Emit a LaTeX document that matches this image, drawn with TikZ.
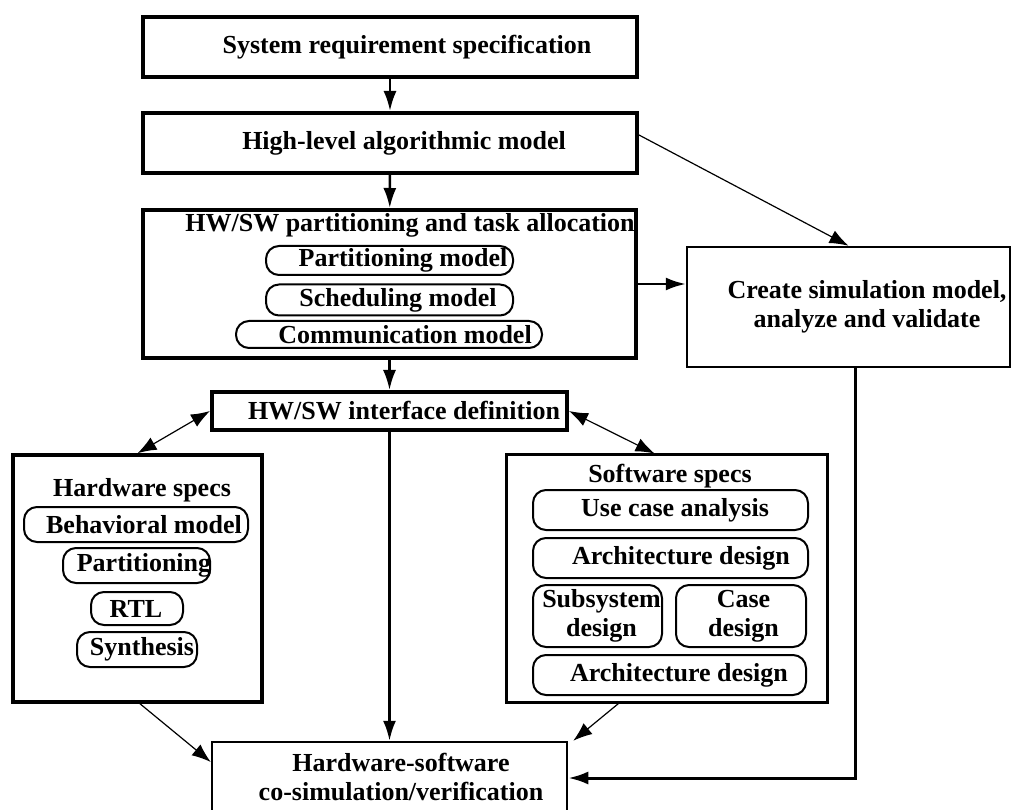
\documentclass[tikz,border=0pt]{standalone}
\usepackage{fontspec}
\setmainfont{Liberation Serif}
\usetikzlibrary{arrows.meta,calc}
\begin{document}
\begin{tikzpicture}[x=1pt,y=-1pt,
  font=\fontsize{26}{29}\selectfont\bfseries,
  stage/.style={draw, line width=4pt, inner sep=0pt, rectangle},
  panel/.style={draw, line width=3pt, inner sep=0pt, rectangle},
  pill/.style={draw, line width=2pt, rounded corners=13pt, inner sep=0pt, rectangle},
  flow/.style={line width=2.5pt, -{Latex[length=20pt,width=13pt]}},
  thinflow/.style={line width=1.2pt, -{Latex[length=19pt,width=14pt]}},
  twoway/.style={line width=1.2pt, {Latex[length=19pt,width=14pt]}-{Latex[length=19pt,width=14pt]}},
  txt/.style={align=center}
]
\fill[white] (0,0) rectangle (1013,810);
\clip (0,0) rectangle (1013,810);

% main flow, top to bottom
\node[stage, minimum width=494pt, minimum height=60pt,
  label={[xshift=17pt]center:System requirement specification}] (req) at (390,47) {};
\node[stage, minimum width=494pt, minimum height=60pt,
  label={[xshift=14pt]center:High-level algorithmic model}] (alg) at (390,143) {};
\node[stage, minimum width=493pt, minimum height=148pt,
  label={[xshift=20.5pt,yshift=59pt]center:HW/SW partitioning and task allocation}] (part) at (389.5,284) {};
\node[pill, minimum width=247pt, minimum height=29pt,
  label={[xshift=13.5pt]center:Partitioning model}] (pmodel) at (389.5,260.5) {};
\node[pill, minimum width=247pt, minimum height=31pt,
  label={[xshift=8.5pt]center:Scheduling model}] (smodel) at (389.5,300) {};
\node[pill, minimum width=306pt, minimum height=27pt,
  label={[xshift=16pt]center:Communication model}] (cmodel) at (389,334.5) {};
\node[stage, minimum width=355pt, minimum height=38pt,
  label={[xshift=14.5pt]center:HW/SW interface definition}] (iface) at (389.5,411) {};

% simulation model
\node[panel, line width=2.5pt, minimum width=323pt, minimum height=120pt,
  label={[txt,xshift=18.5pt]center:Create simulation model,\\analyze and validate}] (sim) at (848.5,307) {};

% hardware specs
\node[panel, line width=3.5pt, minimum width=249pt, minimum height=247pt,
  label={[xshift=4.5pt,yshift=88.5pt]center:Hardware specs}] (hw) at (137.5,578.5) {};
\node[pill, minimum width=224pt, minimum height=35pt,
  label={[xshift=8pt]center:Behavioral model}] (behav) at (136,524.5) {};
\node[pill, minimum width=147pt, minimum height=35pt,
  label={[xshift=7.5pt]center:Partitioning}] (hwpart) at (136.5,565.5) {};
\node[pill, minimum width=92pt, minimum height=33pt,
  label={[xshift=-1pt]center:RTL}] (rtl) at (137,608.5) {};
\node[pill, minimum width=120pt, minimum height=35pt,
  label={[xshift=5pt]center:Synthesis}] (synth) at (137,649.5) {};

% software specs
\node[panel, minimum width=321pt, minimum height=247pt,
  label={[xshift=3.5pt,yshift=102.5pt]center:Software specs}] (sw) at (666.5,578.5) {};
\node[pill, minimum width=275pt, minimum height=40pt,
  label={[xshift=4.5pt]center:Use case analysis}] (usecase) at (670.5,510) {};
\node[pill, minimum width=275pt, minimum height=40pt,
  label={[xshift=10.5pt]center:Architecture design}] (arch1) at (670.5,558) {};
\node[pill, minimum width=129pt, minimum height=62pt,
  label={[txt,xshift=4pt]center:Subsystem\\design}] (subsys) at (597.5,616) {};
\node[pill, minimum width=130pt, minimum height=62pt,
  label={[txt,xshift=2.5pt]center:Case\\design}] (casedes) at (741,616) {};
\node[pill, minimum width=273pt, minimum height=40pt,
  label={[xshift=9.5pt]center:Architecture design}] (arch2) at (669.5,675) {};

% co-simulation (runs past the lower edge)
\node[panel, line width=2.5pt, minimum width=355pt, minimum height=88pt,
  label={[txt,xshift=11.5pt,yshift=9pt]center:Hardware-software\\co-simulation/verification}] (cosim) at (389.5,786) {};

% connectors
\draw[flow] (req) -- (alg);
\draw[flow] (alg) -- (part);
\draw[flow] (part) -- (iface);
\draw[flow] (iface) -- (cosim);
\draw[thinflow] ([yshift=8pt]alg.east) -- (sim.north);
\draw[flow] (part.east) -- (part.east -| sim.west);
\draw[twoway] (hw.north) -- (iface.west);
\draw[twoway] ([xshift=-12pt]sw.north) -- (iface.east);
\draw[thinflow] ([xshift=2.5pt]hw.south) -- ([yshift=24pt]cosim.west);
\draw[thinflow] ([xshift=-48pt]sw.south) -- ([xshift=5pt]cosim.north east);
\draw[line width=3pt, -{Latex[length=20pt,width=13pt]}] ([xshift=6.5pt]sim.south) |- ([yshift=8pt]cosim.east);
\end{tikzpicture}
\end{document}
